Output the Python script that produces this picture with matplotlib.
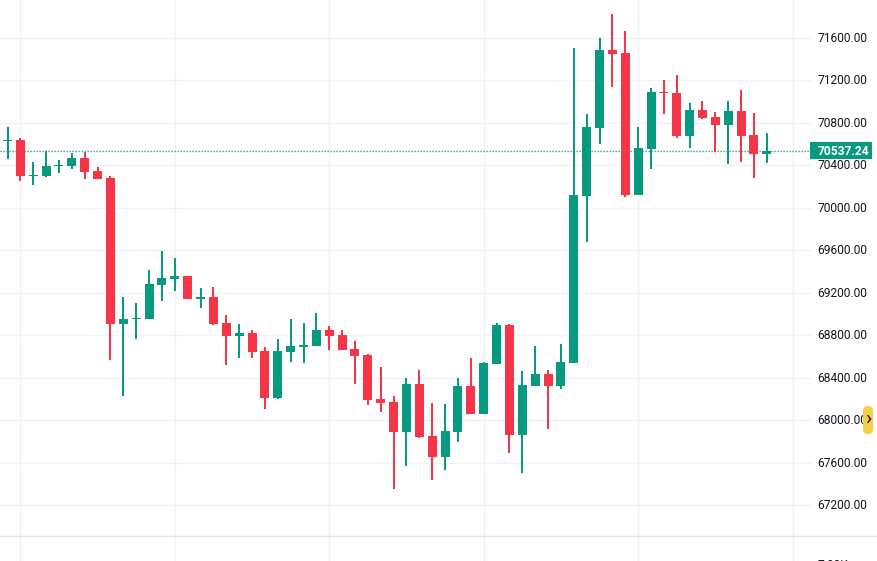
import numpy as np
import matplotlib
matplotlib.use('Agg')
import matplotlib.pyplot as plt
from matplotlib.patches import FancyBboxPatch, Rectangle

# price values, one list per field
opens = [70631, 70637, 70301, 70298, 70395, 70393, 70468, 70346, 70280, 68905,
         68955, 68953, 69273, 69329, 69357, 69141, 69160, 68915, 68793, 68821,
         68651, 68209, 68642, 68689, 68698, 68849, 68802, 68670, 68614, 68200,
         68171, 67889, 68341, 67851, 67654, 67889, 68322, 68058, 68529, 68896,
         67861, 68322, 68435, 68322, 68538, 70110, 70750, 71484, 71456, 70120,
         70553, 71089, 71080, 70675, 70920, 70854, 70779, 70910, 70684, 70506]
closes = [70637, 70298, 70308, 70393, 70402, 70468, 70336, 70270, 68905, 68953,
          68962, 69282, 69338, 69357, 69141, 69160, 68905, 68793, 68821, 68642,
          68209, 68651, 68698, 68708, 68849, 68793, 68661, 68604, 68190, 68162,
          67889, 68341, 67842, 67654, 67898, 68322, 68058, 68538, 68896, 67861,
          68331, 68435, 68322, 68548, 70120, 70760, 71484, 71447, 70120, 70562,
          71089, 71080, 70675, 70920, 70844, 70779, 70910, 70675, 70506, 70537.24]
highs = [70760, 70656, 70430, 70534, 70449, 70515, 70524, 70383, 70298, 69160,
         69103, 69414, 69593, 69527, 69357, 69244, 69254, 68990, 68905, 68849,
         68689, 68764, 68953, 68915, 69009, 68887, 68849, 68745, 68623, 68501,
         68228, 68397, 68473, 68162, 68153, 68397, 68585, 68548, 68915, 68905,
         68463, 68698, 68473, 68717, 71503, 70882, 71597, 71823, 71663, 70760,
         71127, 71202, 71249, 70986, 71004, 70901, 71004, 71108, 70891, 70703]
lows = [70458, 70251, 70214, 70289, 70327, 70364, 70270, 70270, 68567, 68228,
        68764, 68953, 69122, 69216, 69141, 69056, 68896, 68520, 68585, 68585,
        68105, 68200, 68548, 68538, 68698, 68661, 68661, 68341, 68143, 68077,
        67353, 67569, 67833, 67437, 67531, 67795, 68058, 68058, 68529, 67691,
        67503, 68322, 67917, 68294, 68538, 69677, 70600, 71136, 70101, 70120,
        70364, 70882, 70656, 70562, 70835, 70524, 70411, 70430, 70280, 70421]
last_price = 70537.24
price_ticks = [71600, 71200, 70800, 70400, 70000, 69600, 69200, 68800, 68400, 68000, 67600, 67200]
time_ticks = [1, 13, 25, 37, 49, 61]

green = '#089981'
red = '#F43648'
grid_col = '#F1F2F4'
text_col = '#131722'
font = ['Roboto', 'DejaVu Sans']

W, H = 878, 561
fig = plt.figure(figsize=(W / 100, H / 100), dpi=100, facecolor='white')
ax = fig.add_axes([0, 0, 1, 1])

# pixel <-> data scale of the chart
x0, dx = 7.5, 12.87
ppu = 0.10625
top_price = 71600 + 37.7 / ppu
ax.set_xlim(-x0 / dx, (W - x0) / dx)
ax.set_ylim(top_price - H / ppu, top_price)
ax.axis('off')

scale_x = (810 - x0) / dx
label_x = (817.5 - x0) / dx
sep_price = top_price - 536 / ppu

for p in price_ticks:
  ax.plot([ax.get_xlim()[0], scale_x], [p, p], color=grid_col, lw=1, zorder=1)
  ax.text(label_x, p - 0.5 / ppu, '%.2f' % p, family=font, fontsize=8.65, color=text_col,
          ha='left', va='center', zorder=6)
for t in time_ticks:
  ax.plot([t, t], [ax.get_ylim()[0], top_price], color=grid_col, lw=1, zorder=1)

ax.plot(ax.get_xlim(), [sep_price, sep_price], color='#E0E3EB', lw=1, zorder=2)

# candles
for i in range(len(opens)):
  col = green if closes[i] >= opens[i] else red
  ax.plot([i, i], [lows[i], highs[i]], color=col, lw=1.1, solid_capstyle='butt',
          antialiased=False, zorder=3)
  bottom = min(opens[i], closes[i])
  height = max(abs(closes[i] - opens[i]), 0.8 / ppu)
  ax.add_patch(Rectangle((i - 4.5 / dx, bottom), 9 / dx, height, facecolor=col, edgecolor='none', zorder=4))

# last price line and label
ax.plot([ax.get_xlim()[0], scale_x], [last_price, last_price], color=green, lw=1,
        dashes=(0.9, 1.26), zorder=2)
ax.add_patch(Rectangle((scale_x, top_price - 159 / ppu), 62 / dx, 17 / ppu, facecolor=green,
                       edgecolor='none', zorder=5))
ax.text(label_x, top_price - 151 / ppu, '%.2f' % last_price, family=font, fontsize=8.65,
        fontweight='bold', color='white', ha='left', va='center', zorder=7)

# yellow scroll handle over the 68000 label
pill = FancyBboxPatch((863, 406), 10, 28, boxstyle='round,pad=0,rounding_size=5',
                      facecolor='#F7CE45', edgecolor='none', zorder=8)
pill.set_transform(matplotlib.transforms.Affine2D().scale(1, -1).translate(0, H))
ax.add_patch(pill)
ax.text((868 - x0) / dx, top_price - 419.5 / ppu, '›', family=font, fontsize=15, color=text_col,
        ha='center', va='center', zorder=9)

# clipped label of the pane below
ax.text(label_x, top_price - 559 / ppu, '7.00K', family=font, fontsize=8.65, color=text_col,
        ha='left', va='top', zorder=6, clip_on=True)

fig.savefig('out.png', dpi=100)
